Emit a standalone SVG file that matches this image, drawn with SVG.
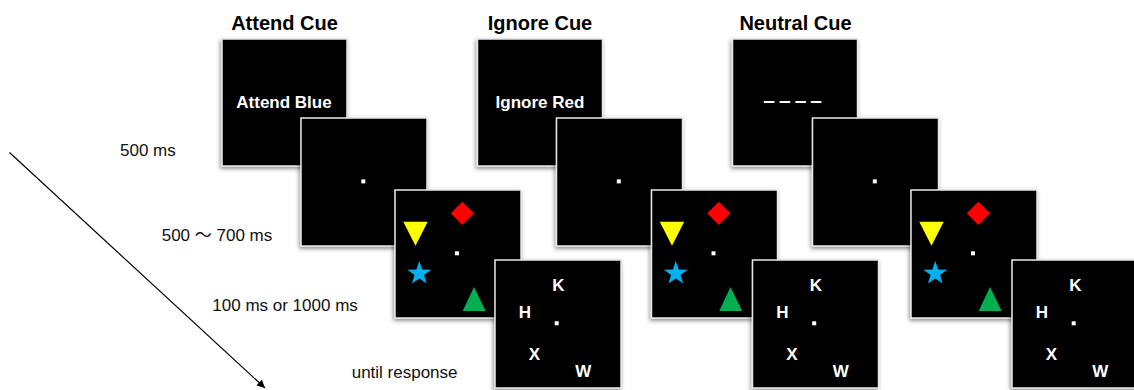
<svg xmlns="http://www.w3.org/2000/svg" width="1134" height="390" viewBox="0 0 1134 390">
  <style>
    .title { font-family: "Liberation Sans", Arial, sans-serif; font-weight: bold; font-size: 20px; fill: #000; text-anchor: middle; }
    .cue { font-family: "Liberation Sans", Arial, sans-serif; font-weight: bold; font-size: 17px; fill: #fff; text-anchor: middle; }
    .letter { font-family: "Liberation Sans", Arial, sans-serif; font-weight: bold; font-size: 17px; fill: #fff; text-anchor: middle; }
    .time { font-family: "Liberation Sans", Arial, "Noto Sans CJK JP", sans-serif; font-size: 17px; fill: #111; }
    .screen { fill: #000; stroke: #e6e6e6; stroke-width: 1.5; filter: url(#shadow); }
    .fix { fill: #fff; }
  </style>
  <defs>
    <filter id="shadow" x="-10%" y="-10%" width="125%" height="125%">
      <feDropShadow dx="-1" dy="2" stdDeviation="2" flood-color="#000" flood-opacity="0.45"/>
    </filter>
    <marker id="arrowhead" markerUnits="userSpaceOnUse" markerWidth="10" markerHeight="10" refX="8" refY="4" orient="auto">
      <path d="M0,0 L8,4 L0,8 Z" fill="#000"/>
    </marker>
    <!-- screen templates, origin at the top-left corner of each screen -->
    <g id="fixScreen">
      <rect class="screen" x="0" y="0" width="126" height="128"/>
      <rect class="fix" x="60.3" y="61.4" width="4" height="4"/>
    </g>
    <g id="searchScreen">
      <rect class="screen" x="0" y="0" width="126" height="128"/>
      <polygon points="67.3,11.8 79,23.3 67.3,35 55.8,23.3" fill="#ff0000"/>
      <polygon points="8.3,31.7 32.7,31.7 20.5,55.7" fill="#ffff00"/>
      <rect class="fix" x="60" y="61.3" width="4" height="4"/>
      <polygon transform="translate(24.3,83.5)" points="0,-12.5 2.94,-4.05 11.89,-3.86 4.76,1.55 7.35,10.11 0,5 -7.35,10.11 -4.76,1.55 -11.89,-3.86 -2.94,-4.05" fill="#00b0f0"/>
      <polygon points="79,97 90.7,121 67.7,121" fill="#00b050"/>
    </g>
    <g id="letterScreen">
      <rect class="screen" x="0" y="0" width="126" height="128"/>
      <text class="letter" x="63.3" y="31.2">K</text>
      <text class="letter" x="30" y="57.9">H</text>
      <rect class="fix" x="59.7" y="61.3" width="4" height="4"/>
      <text class="letter" x="39.3" y="100.2">X</text>
      <text class="letter" x="88.3" y="116.9">W</text>
    </g>
  </defs>

  <!-- timeline arrow -->
  <g id="connectors">
    <line x1="9.5" y1="152.5" x2="265" y2="388" stroke="#000" stroke-width="1.2" marker-end="url(#arrowhead)"/>
  </g>

  <!-- duration labels -->
  <g id="labels">
    <text class="time" x="120" y="155.5">500 ms</text>
    <text class="time" x="161.7" y="240.5">500 ～ 700 ms</text>
    <text class="time" x="212.3" y="310.5">100 ms or 1000 ms</text>
    <text class="time" x="351.7" y="378">until response</text>
  </g>

  <!-- Attend cue sequence -->
  <g id="attend">
    <text class="title" x="284.5" y="30">Attend Cue</text>
    <g id="attend-cue">
      <rect class="screen" x="222" y="39" width="125" height="127"/>
      <text class="cue" x="284" y="108">Attend Blue</text>
    </g>
    <use id="attend-fixation" href="#fixScreen" x="301" y="118"/>
    <use id="attend-search" href="#searchScreen" x="395" y="190"/>
    <use id="attend-response" href="#letterScreen" x="495" y="260"/>
  </g>

  <!-- Ignore cue sequence -->
  <g id="ignore">
    <text class="title" x="540" y="30">Ignore Cue</text>
    <g id="ignore-cue">
      <rect class="screen" x="477.5" y="39" width="125" height="127"/>
      <text class="cue" x="540" y="108">Ignore Red</text>
    </g>
    <use id="ignore-fixation" href="#fixScreen" x="556.5" y="118"/>
    <use id="ignore-search" href="#searchScreen" x="651.5" y="190"/>
    <use id="ignore-response" href="#letterScreen" x="752.5" y="260"/>
  </g>

  <!-- Neutral cue sequence -->
  <g id="neutral">
    <text class="title" x="795.5" y="30">Neutral Cue</text>
    <g id="neutral-cue">
      <rect class="screen" x="732.5" y="39" width="125" height="127"/>
      <text x="763.3" y="107.3" font-family="Liberation Sans, Arial, sans-serif" font-weight="bold" font-size="21" letter-spacing="4" fill="#fff">––––</text>
    </g>
    <use id="neutral-fixation" href="#fixScreen" x="812.5" y="118"/>
    <use id="neutral-search" href="#searchScreen" x="911" y="190"/>
    <use id="neutral-response" href="#letterScreen" x="1012" y="260"/>
  </g>
</svg>
